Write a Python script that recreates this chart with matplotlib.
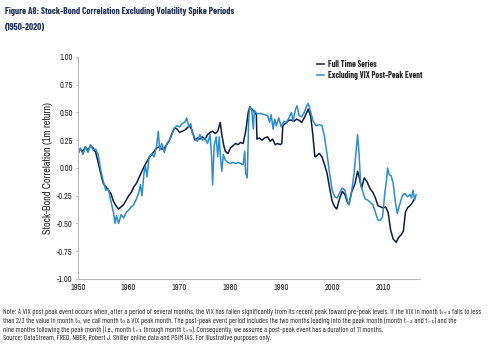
import matplotlib
matplotlib.use('Agg')
import matplotlib.pyplot as plt

# values (year, correlation)
full_years = [1950.0, 1950.5, 1951.0, 1951.5, 1952.0, 1952.5, 1953.0, 1953.5, 1954.0, 1954.5,
              1955.0, 1955.5, 1956.0, 1956.5, 1957.0, 1957.5, 1958.0, 1958.5, 1959.0, 1959.5,
              1960.0, 1960.5, 1961.0, 1961.5, 1962.0, 1962.5, 1963.0, 1963.5, 1964.0, 1964.5,
              1965.0, 1965.5, 1966.0, 1966.5, 1967.0, 1967.5, 1968.0, 1968.5, 1969.0, 1969.5,
              1970.0, 1970.5, 1971.0, 1971.5, 1972.0, 1972.5, 1973.0, 1973.5, 1974.0, 1974.5,
              1975.0, 1975.5, 1976.0, 1976.5, 1977.0, 1977.5, 1978.0, 1978.3, 1978.7, 1979.0,
              1979.5, 1980.0, 1980.5, 1981.0, 1981.5, 1982.0, 1982.5, 1983.0, 1983.5, 1983.8,
              1984.2, 1984.8, 1985.1, 1985.2, 1985.7, 1986.2, 1986.7, 1987.3, 1987.8, 1988.3,
              1988.8, 1989.3, 1989.8, 1990.1, 1990.3, 1990.8, 1991.5, 1992.0, 1992.5, 1993.0,
              1993.5, 1994.0, 1994.5, 1995.0, 1995.3, 1995.8, 1996.2, 1996.6, 1997.0, 1997.5,
              1998.0, 1998.5, 1999.0, 1999.5, 2000.0, 2000.5, 2000.9, 2001.5, 2002.0, 2002.5,
              2003.0, 2003.3, 2003.8, 2004.5, 2005.0, 2005.4, 2005.8, 2006.3, 2006.8, 2007.5,
              2008.0, 2008.5, 2009.0, 2009.5, 2010.0, 2010.5, 2011.0, 2011.5, 2012.0, 2012.6,
              2013.0, 2013.6, 2014.0, 2014.4, 2014.8, 2015.3, 2015.8, 2016.3]
full_corr = [0.13, 0.17, 0.15, 0.19, 0.16, 0.20, 0.18, 0.14, 0.05, -0.05,
             -0.14, -0.17, -0.20, -0.23, -0.30, -0.34, -0.37, -0.35, -0.33, -0.29,
             -0.25, -0.22, -0.17, -0.14, -0.09, -0.04, 0.01, 0.05, 0.09, 0.12,
             0.15, 0.18, 0.19, 0.17, 0.18, 0.21, 0.25, 0.31, 0.36, 0.35,
             0.32, 0.33, 0.34, 0.36, 0.38, 0.33, 0.25, 0.27, 0.26, 0.28,
             0.26, 0.30, 0.32, 0.33, 0.31, 0.33, 0.41, 0.30, 0.20, 0.15,
             0.13, 0.18, 0.20, 0.22, 0.21, 0.23, 0.22, 0.33, 0.50, 0.55,
             0.53, 0.50, 0.48, 0.26, 0.27, 0.25, 0.27, 0.28, 0.24, 0.26,
             0.21, 0.22, 0.21, 0.22, 0.38, 0.40, 0.43, 0.43, 0.42, 0.44,
             0.43, 0.41, 0.45, 0.50, 0.53, 0.46, 0.30, 0.10, 0.11, 0.13,
             0.10, 0.03, -0.05, -0.18, -0.30, -0.35, -0.37, -0.27, -0.21, -0.24,
             -0.31, -0.33, -0.22, -0.14, -0.03, -0.10, -0.18, -0.09, -0.12, -0.19,
             -0.22, -0.27, -0.34, -0.35, -0.36, -0.35, -0.40, -0.56, -0.64, -0.67,
             -0.63, -0.60, -0.57, -0.40, -0.36, -0.34, -0.31, -0.27]

excl_years = [1950.0, 1950.5, 1951.0, 1951.5, 1952.0, 1952.5, 1953.0, 1953.5, 1954.0, 1954.5,
              1955.0, 1955.5, 1956.0, 1956.5, 1957.0, 1957.3, 1957.6, 1958.0, 1958.5, 1959.0,
              1959.5, 1960.0, 1960.5, 1961.0, 1961.5, 1962.0, 1962.3, 1962.6, 1963.0, 1963.3,
              1963.6, 1964.0, 1964.5, 1965.0, 1965.5, 1965.8, 1966.1, 1966.5, 1967.0, 1967.5,
              1968.0, 1968.5, 1969.0, 1969.5, 1970.0, 1970.5, 1971.0, 1971.4, 1971.8, 1972.2,
              1972.5, 1973.0, 1973.5, 1974.0, 1974.5, 1975.0, 1975.5, 1976.0, 1976.3, 1976.5,
              1976.8, 1977.2, 1977.5, 1977.8, 1978.0, 1978.3, 1978.6, 1979.0, 1979.5, 1980.0,
              1980.5, 1981.0, 1981.5, 1982.0, 1982.5, 1982.8, 1983.0, 1983.3, 1983.6, 1983.8,
              1984.2, 1984.5, 1984.7, 1985.2, 1986.0, 1986.7, 1987.3, 1987.7, 1988.0, 1988.4,
              1988.7, 1989.0, 1989.5, 1990.0, 1990.5, 1991.0, 1991.5, 1992.0, 1992.3, 1992.8,
              1993.1, 1993.5, 1994.0, 1994.5, 1995.0, 1995.3, 1995.8, 1996.2, 1996.8, 1997.5,
              1998.0, 1998.5, 1999.0, 1999.5, 2000.0, 2000.5, 2001.0, 2001.5, 2002.0, 2002.5,
              2003.0, 2003.3, 2003.8, 2004.3, 2004.7, 2005.0, 2005.3, 2005.6, 2006.0, 2006.5,
              2007.0, 2007.5, 2008.0, 2008.5, 2009.0, 2009.5, 2009.9, 2010.3, 2010.7, 2010.9,
              2011.2, 2011.6, 2012.0, 2012.4, 2012.8, 2013.2, 2013.8, 2014.3, 2014.8, 2015.3,
              2015.6, 2015.9, 2016.2, 2016.5]
excl_corr = [0.12, 0.18, 0.12, 0.19, 0.14, 0.21, 0.16, 0.17, 0.12, -0.02,
             -0.12, -0.20, -0.19, -0.30, -0.40, -0.50, -0.43, -0.50, -0.42, -0.45,
             -0.40, -0.38, -0.35, -0.33, -0.28, -0.22, -0.15, -0.25, -0.05, 0.02,
             -0.08, 0.10, 0.13, 0.10, 0.20, 0.33, 0.16, 0.22, 0.14, 0.22,
             0.25, 0.30, 0.36, 0.38, 0.37, 0.40, 0.41, 0.45, 0.37, 0.40,
             0.32, 0.27, 0.24, 0.30, 0.25, 0.27, 0.22, 0.30, 0.10, -0.15,
             0.20, 0.28, 0.10, 0.28, 0.12, -0.03, 0.12, 0.07, 0.05, 0.04,
             0.05, 0.04, 0.05, 0.04, 0.03, 0.15, -0.05, -0.09, 0.45, 0.55,
             0.52, 0.35, 0.52, 0.49, 0.49, 0.48, 0.47, 0.41, 0.48, 0.35,
             0.44, 0.38, 0.45, 0.37, 0.42, 0.41, 0.45, 0.50, 0.42, 0.53,
             0.56, 0.47, 0.46, 0.50, 0.56, 0.58, 0.50, 0.43, 0.38, 0.39,
             0.38, 0.28, 0.12, -0.05, -0.20, -0.26, -0.27, -0.22, -0.18, -0.20,
             -0.30, -0.33, -0.22, -0.05, 0.15, 0.30, 0.12, -0.15, -0.21, -0.28,
             -0.29, -0.31, -0.33, -0.40, -0.47, -0.47, -0.44, -0.25, -0.10, 0.00,
             -0.06, -0.07, -0.14, -0.30, -0.41, -0.34, -0.25, -0.23, -0.26, -0.24,
             -0.27, -0.20, -0.29, -0.24]

xticks = [1950, 1960, 1970, 1980, 1990, 2000, 2010]
yticks = [-1.00, -0.75, -0.50, -0.25, 0.00, 0.25, 0.50, 0.75, 1.00]

navy = '#0f1c3f'
blue = '#2b8cce'
cond = ['Barlow Condensed', 'DejaVu Sans']
narrow = ['Archivo Narrow', 'DejaVu Sans']
plt.rcParams['font.family'] = narrow

fig = plt.figure(figsize=(4.99, 3.47), dpi=100)
ax = fig.add_axes([0.156, 0.196, 0.686, 0.640])

ax.plot(full_years, full_corr, color=navy, lw=1.1, label='Full Time Series')
ax.plot(excl_years, excl_corr, color=blue, lw=1.1, label='Excluding VIX Post-Peak Event')

ax.set_xlim(1950, 2017.3)
ax.set_ylim(-1, 1)
ax.set_xticks(xticks)
ax.set_yticks(yticks)
ax.set_yticklabels(['%.2f' % v for v in yticks])
ax.tick_params(axis='both', labelsize=6, colors='#aaaaaa', labelcolor='#222222', length=1.5, width=0.6)
ax.tick_params(axis='x', length=0, pad=3)
ax.tick_params(axis='y', pad=2)
for s in ['top', 'right']:
    ax.spines[s].set_visible(False)
for s in ['left', 'bottom']:
    ax.spines[s].set_color('#bbbbbb')
    ax.spines[s].set_linewidth(0.8)
ax.set_ylabel('Stock-Bond Correlation (1m return)', fontsize=7.4, fontweight='semibold',
              color='#222222', labelpad=3)

leg = ax.legend(loc='upper left', bbox_to_anchor=(0.675, 1.02), frameon=False,
                prop={'family': cond, 'size': 6.1, 'weight': 'bold'},
                handlelength=0.9, handletextpad=0.5, labelspacing=0.25)
for t in leg.get_texts():
    t.set_color('#222222')

fig.text(0.01, 0.98, 'Figure A8: Stock-Bond Correlation Excluding Volatility Spike Periods',
         fontsize=6.7, fontweight='bold', family=cond, color='#1d2f55', va='top')
fig.text(0.01, 0.935, '(1950-2020)', fontsize=6.7, fontweight='bold', family=cond,
         color='#1d2f55', va='top')

# subscripts as unicode characters, so the lines keep even spacing
notes = [
    'Note: A VIX post peak event occurs when, after a period of several months, the VIX has fallen significantly from its recent peak toward pre-peak levels. If the VIX in month t\u209c\u208a\u2083 falls to less',
    'than 2/3 the value in month t\u2080, we call month t\u2080 a VIX peak month. The post-peak event period includes the two months leading into the peak month (month t\u208b\u2082 and t\u208b\u2081) and the',
    'nine months following the peak month (i.e., month t\u208a\u2081 through month t\u208a\u2089). Consequently, we assume a post-peak event has a duration of 11 months.',
    'Source: DataStream, FRED, NBER, Robert J. Shiller online data and PGIM IAS. For illustrative purposes only.',
]
for i, line in enumerate(notes):
    fig.text(0.007, 0.099 - i * 0.0252, line, fontsize=5.4, family=cond, color='#222222', va='center')

fig.savefig('out.png', dpi=100)
